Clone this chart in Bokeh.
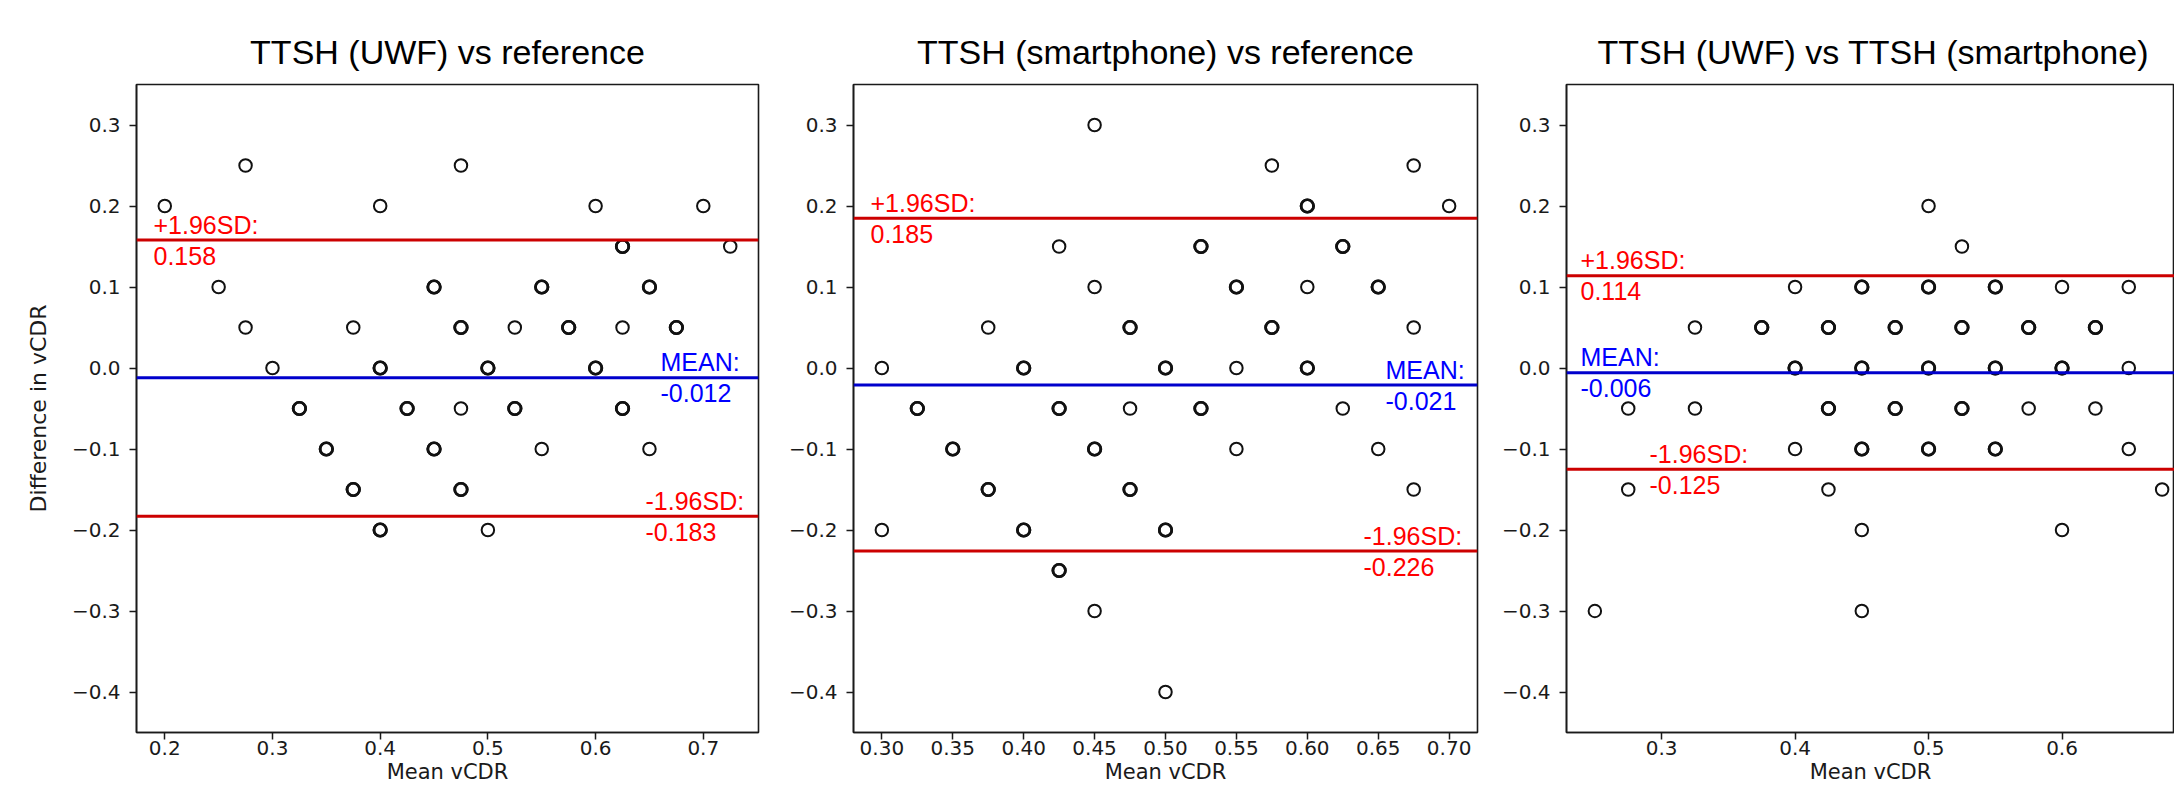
import numpy as np
from bokeh.plotting import figure
from bokeh.layouts import row
from bokeh.models import Span, Label, FixedTicker, CustomJSTickFormatter, Range1d, Title, ColumnDataSource
from bokeh.embed import file_html
from bokeh.resources import INLINE

# ---------------- data ----------------
titles = ["TTSH (UWF) vs reference",
          "TTSH (smartphone) vs reference",
          "TTSH (UWF) vs TTSH (smartphone)"]
x_label = "Mean vCDR"
y_label = "Difference in vCDR"

# panel 1: TTSH (UWF) vs reference  (n = number of overlapping observations)
p1_mean = [0.2, 0.275, 0.4, 0.475, 0.6, 0.7, 0.625, 0.725, 0.25, 0.45, 0.55, 0.65,
           0.275, 0.375, 0.475, 0.525, 0.575, 0.625, 0.675, 0.3, 0.4, 0.5, 0.6,
           0.325, 0.425, 0.475, 0.525, 0.625, 0.35, 0.45, 0.55, 0.65, 0.375, 0.475, 0.4, 0.5]
p1_diff = [0.2, 0.25, 0.2, 0.25, 0.2, 0.2, 0.15, 0.15, 0.1, 0.1, 0.1, 0.1,
           0.05, 0.05, 0.05, 0.05, 0.05, 0.05, 0.05, 0.0, 0.0, 0.0, 0.0,
           -0.05, -0.05, -0.05, -0.05, -0.05, -0.1, -0.1, -0.1, -0.1, -0.15, -0.15, -0.2, -0.2]
p1_n = [1, 1, 1, 1, 1, 1, 2, 1, 1, 2, 2, 2,
        1, 1, 2, 1, 2, 1, 2, 1, 2, 2, 2,
        2, 2, 1, 2, 2, 2, 2, 1, 1, 2, 2, 2, 1]

# panel 2: TTSH (smartphone) vs reference
p2_mean = [0.45, 0.575, 0.675, 0.6, 0.7, 0.425, 0.525, 0.625, 0.45, 0.55, 0.6, 0.65,
           0.375, 0.475, 0.575, 0.675, 0.3, 0.4, 0.5, 0.55, 0.6,
           0.325, 0.425, 0.475, 0.525, 0.625, 0.35, 0.45, 0.55, 0.65,
           0.375, 0.475, 0.675, 0.3, 0.4, 0.5, 0.425, 0.45, 0.5]
p2_diff = [0.3, 0.25, 0.25, 0.2, 0.2, 0.15, 0.15, 0.15, 0.1, 0.1, 0.1, 0.1,
           0.05, 0.05, 0.05, 0.05, 0.0, 0.0, 0.0, 0.0, 0.0,
           -0.05, -0.05, -0.05, -0.05, -0.05, -0.1, -0.1, -0.1, -0.1,
           -0.15, -0.15, -0.15, -0.2, -0.2, -0.2, -0.25, -0.3, -0.4]
p2_n = [1, 1, 1, 2, 1, 1, 2, 2, 1, 2, 1, 2,
        1, 2, 2, 1, 1, 2, 2, 1, 2,
        2, 2, 1, 2, 1, 2, 2, 1, 1,
        2, 2, 1, 1, 2, 2, 2, 1, 1]

# panel 3: TTSH (UWF) vs TTSH (smartphone)
p3_mean = [0.5, 0.525, 0.4, 0.45, 0.5, 0.55, 0.6, 0.65,
           0.325, 0.375, 0.425, 0.475, 0.525, 0.575, 0.625,
           0.4, 0.45, 0.5, 0.55, 0.6, 0.65,
           0.275, 0.325, 0.425, 0.475, 0.525, 0.575, 0.625,
           0.4, 0.45, 0.5, 0.55, 0.65, 0.275, 0.425, 0.675, 0.45, 0.6, 0.25, 0.45]
p3_diff = [0.2, 0.15, 0.1, 0.1, 0.1, 0.1, 0.1, 0.1,
           0.05, 0.05, 0.05, 0.05, 0.05, 0.05, 0.05,
           0.0, 0.0, 0.0, 0.0, 0.0, 0.0,
           -0.05, -0.05, -0.05, -0.05, -0.05, -0.05, -0.05,
           -0.1, -0.1, -0.1, -0.1, -0.1, -0.15, -0.15, -0.15, -0.2, -0.2, -0.3, -0.3]
p3_n = [1, 1, 1, 2, 2, 2, 1, 1,
        1, 2, 2, 2, 2, 2, 2,
        2, 2, 2, 2, 2, 1,
        1, 1, 2, 2, 2, 1, 1,
        1, 2, 2, 2, 1, 1, 1, 1, 1, 1, 1, 1]

# Bland-Altman statistics: mean difference, +1.96SD, -1.96SD
bias = [-0.012, -0.021, -0.006]
upper_loa = [0.158, 0.185, 0.114]
lower_loa = [-0.183, -0.226, -0.125]

y_ticks = [-0.4, -0.3, -0.2, -0.1, 0.0, 0.1, 0.2, 0.3]
x_ticks = [[0.2, 0.3, 0.4, 0.5, 0.6, 0.7],
           [0.30, 0.35, 0.40, 0.45, 0.50, 0.55, 0.60, 0.65, 0.70],
           [0.3, 0.4, 0.5, 0.6]]
x_decimals = [1, 2, 1]

# ---------------- layout / style ----------------
Y_RANGE = (-0.45, 0.35)
full_xlim = [(0.17375, 0.75125), (0.28, 0.72), (0.22875, 0.69625)]
full_frame_w = [622, 624, 624]
frame_w = [622, 624, 608]          # third panel is clipped by the page edge
border_l = [136, 83, 76]
border_r = [12, 13, 0]
FRAME_H = 648
BORDER_T = 84
BORDER_B = 64
HEIGHT = BORDER_T + FRAME_H + BORDER_B
ppu_y = FRAME_H / (Y_RANGE[1] - Y_RANGE[0])

# label left edges in pixels from frame left: (+1.96SD, MEAN, -1.96SD)
lab_px = [(17, 524, 509), (17, 532, 510), (14, 14, 83)]
LAB_GAP = 15.5     # px between a line and the centre of each text row

TICK_FONT = "DejaVu Sans"
ANN_FONT = "Liberation Sans"
INK = "#1a1a1a"
RED_LINE = "#cc0000"
BLUE_LINE = "#0000cc"

means = [p1_mean, p2_mean, p3_mean]
diffs = [p1_diff, p2_diff, p3_diff]
counts = [p1_n, p2_n, p3_n]

figs = []
for i in range(3):
    x0, x1full = full_xlim[i]
    ppu_x = full_frame_w[i] / (x1full - x0)
    x1 = x0 + frame_w[i] / ppu_x
    width = border_l[i] + frame_w[i] + border_r[i]

    p = figure(width=width, height=HEIGHT, output_backend="svg", toolbar_location=None,
               x_range=Range1d(x0, x1), y_range=Range1d(*Y_RANGE),
               min_border_left=border_l[i], min_border_right=border_r[i],
               min_border_top=BORDER_T, min_border_bottom=BORDER_B,
               title=None)
    if i == 2:
        t = Title(text=titles[i], align="left", offset=31)
    else:
        t = Title(text=titles[i], align="center")
    t.text_font = ANN_FONT
    t.text_font_size = "34px"
    t.text_font_style = "normal"
    t.text_color = "black"
    t.standoff = 28
    p.add_layout(t, "above")

    p.xgrid.visible = False
    p.ygrid.visible = False
    p.outline_line_color = INK
    p.outline_line_width = 1.6
    p.background_fill_color = "white"
    p.border_fill_color = "white"

    for ax in (p.xaxis[0], p.yaxis[0]):
        ax.axis_line_color = INK
        ax.axis_line_width = 1.6
        ax.major_tick_line_color = INK
        ax.major_tick_line_width = 1.5
        ax.major_tick_out = 7
        ax.major_tick_in = 0
        ax.minor_tick_line_color = None
        ax.major_label_text_font = TICK_FONT
        ax.major_label_text_font_size = "20px"
        ax.major_label_text_color = INK
    p.xaxis.major_label_standoff = 1
    p.yaxis.major_label_standoff = 9

    p.xaxis.ticker = FixedTicker(ticks=x_ticks[i])
    p.yaxis.ticker = FixedTicker(ticks=y_ticks)
    p.xaxis.formatter = CustomJSTickFormatter(
        code="return tick.toFixed(%d);" % x_decimals[i])
    p.yaxis.formatter = CustomJSTickFormatter(
        code="var s = Math.abs(tick) < 1e-9 ? (0).toFixed(1) : tick.toFixed(1); return s.replace('-', '\u2212');")

    # x-axis label on every panel
    p.xaxis.axis_label = x_label
    p.xaxis.axis_label_text_font = TICK_FONT
    p.xaxis.axis_label_text_font_size = "21px"
    p.xaxis.axis_label_text_font_style = "normal"
    p.xaxis.axis_label_text_color = INK
    p.xaxis.axis_label_standoff = 2

    if i == 0:
        p.yaxis.axis_label = y_label
        p.yaxis.axis_label_text_font = TICK_FONT
        p.yaxis.axis_label_text_font_size = "22px"
        p.yaxis.axis_label_text_font_style = "normal"
        p.yaxis.axis_label_text_color = INK
        p.yaxis.axis_label_standoff = 18

    # points (overlapping observations drawn once per observation, heavier ring)
    n = np.array(counts[i])
    src = ColumnDataSource(dict(
        x=np.repeat(np.array(means[i]), n),
        y=np.repeat(np.array(diffs[i]), n),
        lw=np.repeat(np.where(n > 1, 2.7, 2.0), n)))
    p.scatter("x", "y", source=src, marker="circle", size=12.5, fill_color=None,
              line_color="#111111", line_width="lw")

    # limits of agreement and bias
    p.add_layout(Span(location=upper_loa[i], dimension="width",
                      line_color=RED_LINE, line_width=3))
    p.add_layout(Span(location=lower_loa[i], dimension="width",
                      line_color=RED_LINE, line_width=3))
    p.add_layout(Span(location=bias[i], dimension="width",
                      line_color=BLUE_LINE, line_width=3))

    items = [("+1.96SD:", upper_loa[i], "#ff0000", lab_px[i][0]),
             ("MEAN:", bias[i], "#0000ff", lab_px[i][1]),
             ("-1.96SD:", lower_loa[i], "#ff0000", lab_px[i][2])]
    for head, val, col, px in items:
        lx = x0 + px / ppu_x
        p.add_layout(Label(x=lx, y=val + LAB_GAP / ppu_y, text=head, text_align="left",
                           text_baseline="middle", text_font=ANN_FONT,
                           text_font_size="25px", text_color=col))
        p.add_layout(Label(x=lx, y=val - LAB_GAP / ppu_y, text="%.3f" % val, text_align="left",
                           text_baseline="middle", text_font=ANN_FONT,
                           text_font_size="25px", text_color=col))
    figs.append(p)

layout = row(*figs, spacing=0)
open("out.html", "w").write(file_html(layout, INLINE))
